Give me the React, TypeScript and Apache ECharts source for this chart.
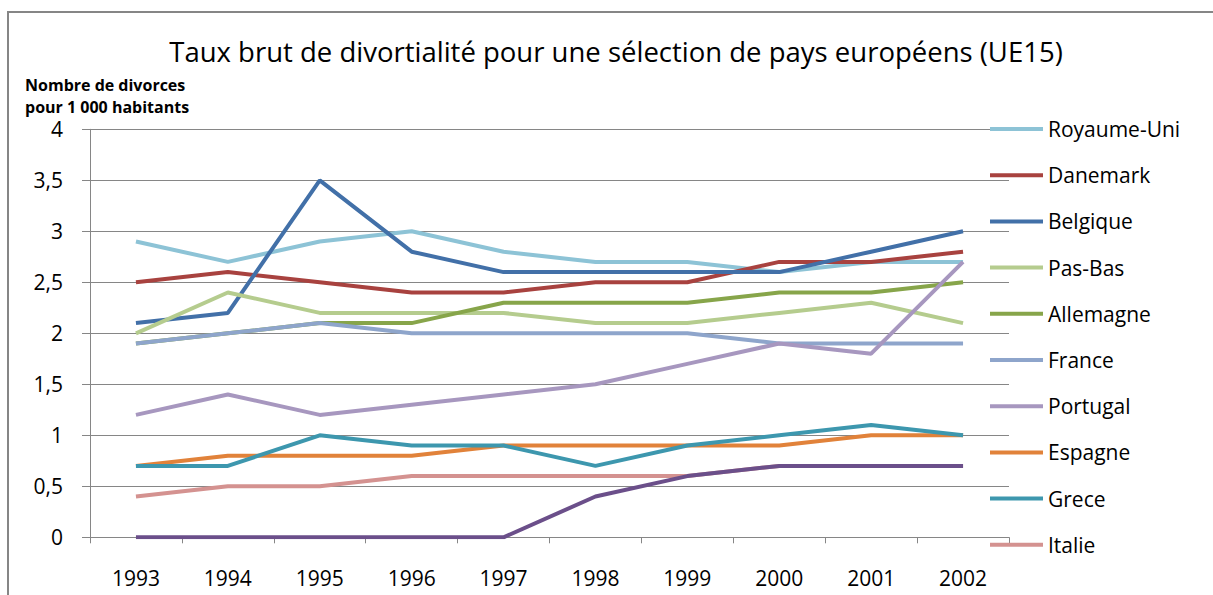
import React, { useEffect, useRef } from "react";
import * as echarts from "echarts";

const years = ["1993", "1994", "1995", "1996", "1997", "1998", "1999", "2000", "2001", "2002"];

const royaumeUni = [2.9, 2.7, 2.9, 3.0, 2.8, 2.7, 2.7, 2.6, 2.7, 2.7];
const danemark = [2.5, 2.6, 2.5, 2.4, 2.4, 2.5, 2.5, 2.7, 2.7, 2.8];
const belgique = [2.1, 2.2, 3.5, 2.8, 2.6, 2.6, 2.6, 2.6, 2.8, 3.0];
const paysBas = [2.0, 2.4, 2.2, 2.2, 2.2, 2.1, 2.1, 2.2, 2.3, 2.1];
const allemagne = [1.9, 2.0, 2.1, 2.1, 2.3, 2.3, 2.3, 2.4, 2.4, 2.5];
const france = [1.9, 2.0, 2.1, 2.0, 2.0, 2.0, 2.0, 1.9, 1.9, 1.9];
const portugal = [1.2, 1.4, 1.2, 1.3, 1.4, 1.5, 1.7, 1.9, 1.8, 2.7];
const espagne = [0.7, 0.8, 0.8, 0.8, 0.9, 0.9, 0.9, 0.9, 1.0, 1.0];
const grece = [0.7, 0.7, 1.0, 0.9, 0.9, 0.7, 0.9, 1.0, 1.1, 1.0];
const italie = [0.4, 0.5, 0.5, 0.6, 0.6, 0.6, 0.6, 0.7, 0.7, 0.7];
const irlande = [0, 0, 0, 0, 0, 0.4, 0.6, 0.7, 0.7, 0.7];

const seriesDefs = [
  { name: "Royaume-Uni", data: royaumeUni, color: "#8DC3D6" },
  { name: "Danemark", data: danemark, color: "#A8423F" },
  { name: "Belgique", data: belgique, color: "#4270A8" },
  { name: "Pas-Bas", data: paysBas, color: "#B5CC8E" },
  { name: "Allemagne", data: allemagne, color: "#87A54A" },
  { name: "France", data: france, color: "#8EA5CB" },
  { name: "Portugal", data: portugal, color: "#A797BF" },
  { name: "Espagne", data: espagne, color: "#E1823A" },
  { name: "Grece", data: grece, color: "#3D97AE" },
  { name: "Italie", data: italie, color: "#D49290" },
  { name: "Irlande", data: irlande, color: "#6B4F8A" },
];

const legendNames = seriesDefs.slice(0, 10).map((s) => s.name);

const FONT = "'Open Sans', Lato, sans-serif";

export default function App() {
  const ref = useRef<HTMLDivElement>(null);
  useEffect(() => {
    if (!ref.current) return;
    const chart = echarts.init(ref.current, null, { renderer: "svg" });
    chart.setOption({
      animation: false,
      backgroundColor: "#ffffff",
      title: {
        text: "Taux brut de divortialité pour une sélection de pays européens (UE15)",
        left: 611,
        textAlign: "center",
        top: 32,
        textStyle: { fontFamily: FONT, fontSize: 27.5, fontWeight: "normal", color: "#000" },
      },
      graphic: [
        {
          type: "rect",
          shape: { x: 8, y: 12, width: 1220, height: 600 },
          style: { fill: "none", stroke: "#868686", lineWidth: 2 },
          silent: true,
        },
        {
          type: "text",
          style: {
            x: 25,
            y: 85,
            text: "Nombre de divorces",
            font: "bold 16px " + FONT,
            lineHeight: 16,
            verticalAlign: "middle",
            fill: "#000",
          },
        },
        {
          type: "text",
          style: {
            x: 25,
            y: 107,
            text: "pour 1 000 habitants",
            font: "bold 16px " + FONT,
            lineHeight: 16,
            verticalAlign: "middle",
            fill: "#000",
          },
        },
      ],
      grid: { left: 90, top: 129.3, right: 204, bottom: 57.7, containLabel: false },
      legend: {
        data: legendNames,
        orient: "vertical",
        left: 990,
        top: 118,
        padding: 0,
        icon: "rect",
        itemWidth: 53,
        itemHeight: 4,
        itemGap: 24.2,
        textStyle: { fontFamily: FONT, fontSize: 21, color: "#000", lineHeight: 22 },
      },
      xAxis: {
        type: "category",
        data: years,
        boundaryGap: true,
        axisLine: { lineStyle: { color: "#868686", width: 1 } },
        axisTick: { show: true, alignWithLabel: false, length: 6, lineStyle: { color: "#868686" } },
        axisLabel: { fontFamily: FONT, fontSize: 21, color: "#000", margin: 30 },
      },
      yAxis: {
        type: "value",
        min: 0,
        max: 4,
        interval: 0.5,
        axisLine: { show: true, lineStyle: { color: "#868686", width: 1 } },
        axisTick: { show: true, length: 8, lineStyle: { color: "#868686" } },
        splitLine: { show: true, lineStyle: { color: "#868686", width: 1 } },
        axisLabel: {
          fontFamily: FONT,
          fontSize: 21,
          lineHeight: 21,
          color: "#000",
          margin: 27,
          formatter: (v: number) => String(v).replace(".", ","),
        },
      },
      series: seriesDefs.map((s) => ({
        name: s.name,
        type: "line",
        data: s.data,
        symbol: "none",
        showSymbol: false,
        lineStyle: { color: s.color, width: 4 },
        itemStyle: { color: s.color },
        emphasis: { disabled: true },
      })),
    });
    return () => chart.dispose();
  }, []);
  return (
    <div
      ref={ref}
      style={{ position: "fixed", left: 0, top: 0, width: 1213, height: 595 }}
    />
  );
}
